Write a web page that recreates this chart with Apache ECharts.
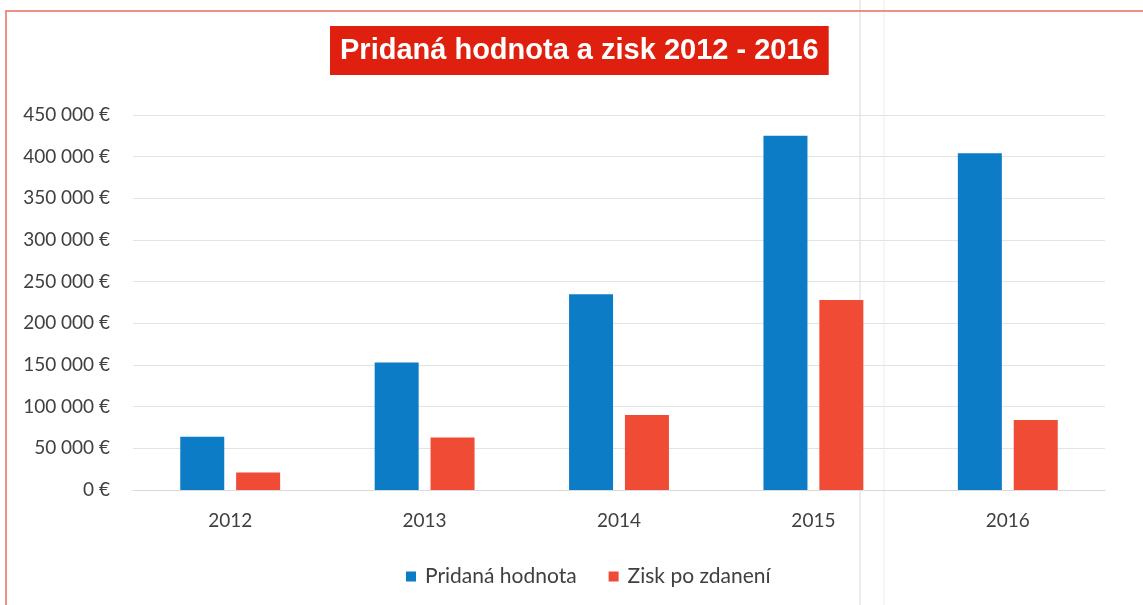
<!DOCTYPE html>
<html>
<head>
<meta charset="utf-8">
<style>
html,body{margin:0;padding:0;background:#fff;}
#c{width:1143px;height:605px;}
</style>
<script src="https://cdn.jsdelivr.net/npm/echarts@6/dist/echarts.min.js"></script>
</head>
<body>
<div id="c"></div>
<script>
const categories = ['2012', '2013', '2014', '2015', '2016'];
const pridanaHodnota = [64000, 153000, 235000, 425000, 404000];
const ziskPoZdaneni = [21000, 63000, 90000, 228000, 84000];
const titleText = 'Pridaná hodnota a zisk 2012 - 2016';
const seriesNames = ['Pridaná hodnota', 'Zisk po zdanení'];

const chart = echarts.init(document.getElementById('c'));
const fmt = v => (v === 0 ? '0' : String(v).replace(/\B(?=(\d{3})+(?!\d))/g, ' ')) + ' €';
chart.setOption({
  backgroundColor: '#ffffff',
  animation: false,
  title: {
    text: titleText,
    left: 330,
    top: 26,
    backgroundColor: '#e0200f',
    padding: [8, 10, 8, 10],
    textStyle: { color: '#ffffff', fontFamily: 'Liberation Sans', fontWeight: 'bold', fontSize: 29, lineHeight: 33 }
  },
  graphic: [
    { type: 'rect', silent: true, z: -1, shape: { x: 6, y: 11, width: 1160, height: 620 },
      style: { fill: 'none', stroke: '#e4705f', lineWidth: 1.5 } },
    { type: 'line', silent: true, z: -2, shape: { x1: 860, y1: 0, x2: 860, y2: 605 },
      style: { stroke: '#d8d8d8', lineWidth: 1 } },
    { type: 'line', silent: true, z: -2, shape: { x1: 884, y1: 0, x2: 884, y2: 605 },
      style: { stroke: '#ececec', lineWidth: 1 } }
  ],
  legend: {
    bottom: 13,
    left: 401,
    itemWidth: 10,
    itemHeight: 10,
    itemGap: 32,
    icon: 'rect',
    textStyle: { color: '#404040', fontFamily: 'Lato', fontSize: 21, padding: [0, 0, 0, 4] }
  },
  grid: { left: 133, right: 38, top: 115, bottom: 115 },
  xAxis: {
    type: 'category',
    data: categories,
    axisLine: { show: true, lineStyle: { color: '#d9d9d9' } },
    axisTick: { show: false },
    axisLabel: { color: '#404040', fontFamily: 'Lato', fontSize: 19, margin: 21 }
  },
  yAxis: {
    type: 'value',
    min: 0, max: 450000, interval: 50000,
    axisLine: { show: false },
    axisTick: { show: false },
    splitLine: { lineStyle: { color: '#e3e3e3' } },
    axisLabel: { color: '#404040', fontFamily: 'Lato', fontSize: 19, margin: 23, formatter: fmt }
  },
  series: [
    { name: seriesNames[0], type: 'bar', data: pridanaHodnota, barWidth: 44, barGap: '27%',
      itemStyle: { color: '#0c7cc6' } },
    { name: seriesNames[1], type: 'bar', data: ziskPoZdaneni, barWidth: 44,
      itemStyle: { color: '#ef4b35' } }
  ]
});
</script>
</body>
</html>
